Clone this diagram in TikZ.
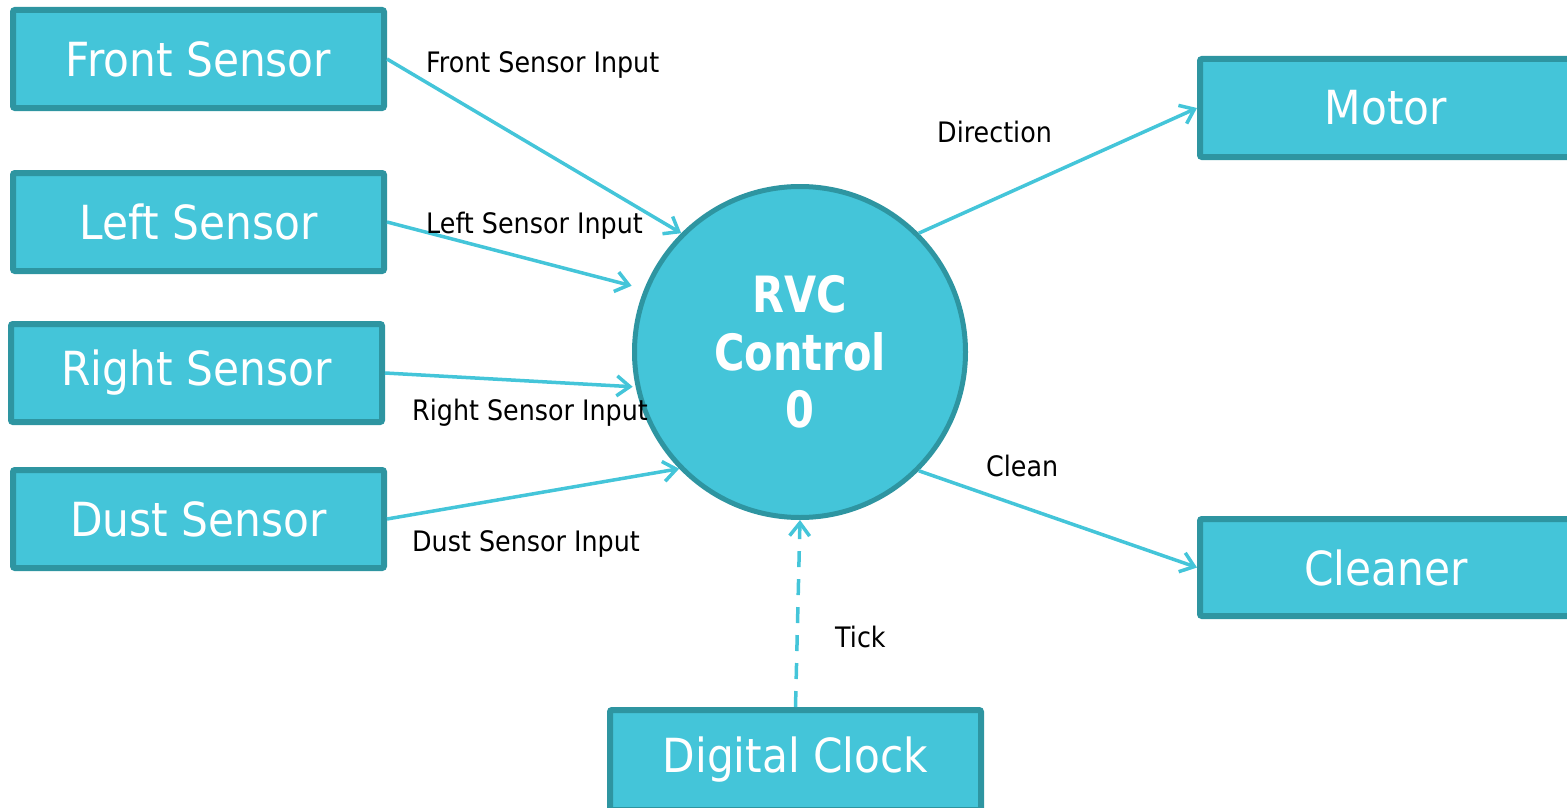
\documentclass[tikz,border=0pt]{standalone}
\usepackage{fontspec}
\setmainfont{DejaVu Sans}[FakeStretch=0.9]
\newfontfamily\rvcfont{DejaVu Sans}[FakeStretch=0.83]
\usetikzlibrary{arrows.meta}
\definecolor{boxfill}{RGB}{68,197,217}
\definecolor{boxline}{RGB}{46,149,161}
\definecolor{flow}{RGB}{68,197,217}
\tikzset{
  entity/.style={rectangle, rounded corners=2pt, fill=boxfill, draw=boxline, line width=6pt,
     minimum width=371pt, minimum height=98pt, inner sep=0pt, text=white,
     font=\fontsize{47}{55}\selectfont},
  process/.style={circle, fill=boxfill, draw=boxline, line width=5pt, minimum size=331pt,
     inner sep=0pt, text=white, align=center,
     font=\rvcfont\bfseries\fontsize{50}{57.5}\selectfont},
  flowline/.style={draw=flow, line width=3.5pt, -{Straight Barb[length=13pt,width=20pt,line width=3.5pt]}},
  flowlabel/.style={anchor=base west, inner sep=0pt, font=\fontsize{28.2}{33}\selectfont, text=black}
}
\begin{document}
\begin{tikzpicture}[x=1pt,y=-1pt]
\useasboundingbox (0,0) rectangle (1567,808);
\clip (0,0) rectangle (1567,808);
\node[entity] (fs) at (198.5,59) {Front Sensor};
\node[entity] (ls) at (198.5,222) {Left Sensor};
\node[entity] (rs) at (196.5,373) {Right Sensor};
\node[entity] (ds) at (198.5,519) {Dust Sensor};
\node[entity, minimum width=372pt] (mo) at (1386,108) {Motor};
\node[entity, minimum width=372pt, minimum height=97pt] (cl) at (1386,567.5) {Cleaner};
\node[entity, minimum height=100pt] (dc) at (795.5,760) {Digital Clock};
\node[process] (rvc) at (800,352) {RVC\\Control\\0};

\draw[flowline] (fs.east) -- (rvc.135);
\draw[flowline, shorten >=13pt] (ls.east) -- (rvc.158.3);
\draw[flowline, shorten >=3pt] (rs.east) -- (rvc.192.8);
\draw[flowline] (ds.east) -- (rvc.224.8);
\draw[flowline] (rvc.45.5) -- (mo.west);
\draw[flowline] (rvc.-45) -- (cl.west);
\draw[flowline, dash pattern=on 16pt off 12pt] (dc.north) -- (rvc.south);

\node[flowlabel] (l1) at (426,73) {Front Sensor Input};
\node[flowlabel] (l2) at (426,233) {Left Sensor Input};
\node[flowlabel] (l3) at (412,420) {Right Sensor Input};
\node[flowlabel] (l4) at (412,551) {Dust Sensor Input};
\node[flowlabel] (l5) at (937,142) {Direction};
\node[flowlabel] (l6) at (986,476) {Clean};
\node[flowlabel] (l7) at (835,647) {Tick};
\end{tikzpicture}
\end{document}
